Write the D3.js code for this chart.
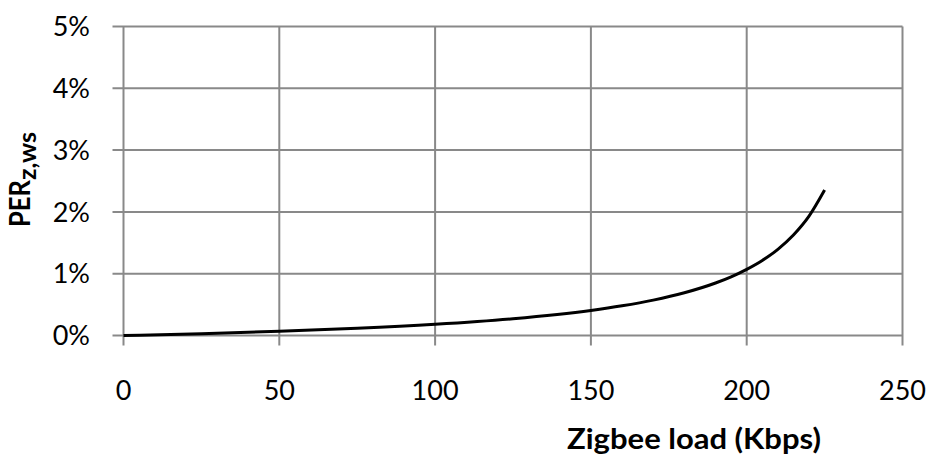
<!DOCTYPE html>
<html>
<head>
<meta charset="utf-8">
<script src="https://cdn.jsdelivr.net/npm/d3@7"></script>
<style>
  html, body { margin: 0; padding: 0; background: #fff; }
  svg { display: block; }
  text { font-family: Lato, "Open Sans", sans-serif; fill: #000; }
</style>
</head>
<body>
<svg id="chart" width="929" height="465"></svg>
<script>
// Data
const loadKbps = [0, 25, 50, 75, 100, 125, 150, 160, 170, 180, 190, 195, 200, 205, 210, 215, 220, 225];
const perPercent = [0, 0.03, 0.068, 0.116, 0.181, 0.271, 0.405, 0.48, 0.572, 0.691, 0.849, 0.949, 1.07, 1.214, 1.395, 1.626, 1.931, 2.353];
const xTicks = [0, 50, 100, 150, 200, 250];
const yTicks = [0, 1, 2, 3, 4, 5];
const xTitle = "Zigbee load (Kbps)";
const yTitleMain = "PER";
const yTitleSub = "Z,WS";

const svg = d3.select("#chart");
const mLeft = 123.5, mRight = 902.5, mTop = 26.5, mBottom = 335.5;

const x = d3.scaleLinear().domain([0, 250]).range([mLeft, mRight]);
const y = d3.scaleLinear().domain([0, 5]).range([mBottom, mTop]);

const gridColor = "#898989";

// horizontal gridlines (with tick extension to the left)
svg.append("g").selectAll("line").data(yTicks).join("line")
  .attr("x1", mLeft - 11).attr("x2", mRight)
  .attr("y1", d => y(d)).attr("y2", d => y(d))
  .attr("stroke", gridColor).attr("stroke-width", 2);

// vertical gridlines (with tick extension downward)
svg.append("g").selectAll("line").data(xTicks).join("line")
  .attr("x1", d => x(d)).attr("x2", d => x(d))
  .attr("y1", mTop).attr("y2", mBottom + 10)
  .attr("stroke", gridColor).attr("stroke-width", 2);

// y tick labels
svg.append("g").selectAll("text").data(yTicks).join("text")
  .attr("x", 90).attr("y", d => y(d))
  .attr("dy", "0.36em")
  .attr("text-anchor", "end")
  .attr("font-size", 27)
  .text(d => d + "%");

// x tick labels
svg.append("g").selectAll("text").data(xTicks).join("text")
  .attr("x", d => x(d)).attr("y", 400)
  .attr("text-anchor", "middle")
  .attr("font-size", 27)
  .text(d => d);

// curve
const line = d3.line()
  .x((d, i) => x(loadKbps[i]))
  .y(d => y(d))
  .curve(d3.curveMonotoneX);

svg.append("path")
  .datum(perPercent)
  .attr("d", line)
  .attr("fill", "none")
  .attr("stroke", "#000")
  .attr("stroke-width", 3)
  .attr("stroke-linecap", "butt");

// x title
svg.append("text")
  .attr("x", 567).attr("y", 449)
  .attr("font-size", 28)
  .attr("font-weight", "bold")
  .attr("textLength", 254)
  .attr("lengthAdjust", "spacingAndGlyphs")
  .text(xTitle);

// y title
const yt = svg.append("text")
  .attr("transform", `translate(30,227) rotate(-90)`)
  .attr("text-anchor", "start")
  .attr("font-size", 29)
  .attr("font-weight", "bold");
yt.append("tspan").attr("textLength", 47).attr("lengthAdjust", "spacingAndGlyphs").text(yTitleMain);
yt.append("tspan").attr("font-size", 24).attr("dy", 6).attr("textLength", 48).attr("lengthAdjust", "spacingAndGlyphs").text(yTitleSub.toLowerCase());
</script>
</body>
</html>
